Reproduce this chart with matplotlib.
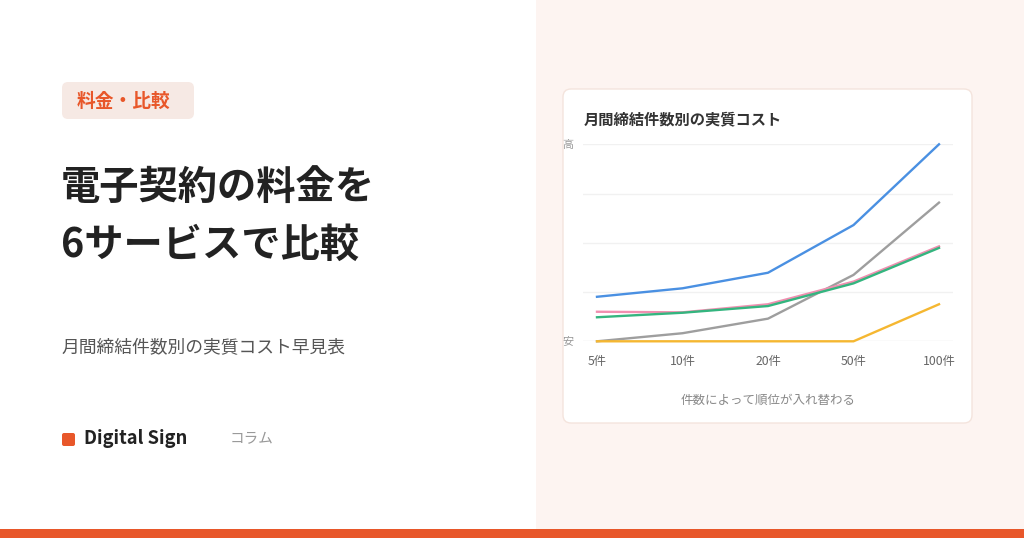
import matplotlib
matplotlib.use("Agg")
import matplotlib.pyplot as plt
from matplotlib.patches import FancyBboxPatch, Rectangle

plt.rcParams['font.family'] = ['Noto Sans CJK JP', 'DejaVu Sans']

# ---- data ----
categories = ["5件", "10件", "20件", "50件", "100件"]
series_blue = [22.6, 26.9, 34.8, 59.0, 100.0]
series_gray = [0.0, 4.1, 11.5, 33.7, 70.4]
series_pink = [15.0, 14.7, 18.8, 30.3, 48.2]
series_green = [12.2, 14.5, 17.9, 29.4, 47.4]
series_yellow = [0.0, 0.0, 0.0, 0.0, 18.8]
y_ticks = [0, 100]
y_tick_labels = ["安", "高"]
grid_levels = [0, 25, 50, 75, 100]

W, H = 1024, 538
fig = plt.figure(figsize=(W / 100, H / 100), dpi=100)
fig.patch.set_facecolor("white")

bg = fig.add_axes([0, 0, 1, 1], zorder=0)
bg.set_xlim(0, W)
bg.set_ylim(0, H)
bg.axis("off")

def Y(y):
    return H - y

ORANGE = "#e8572a"
# right panel
bg.add_patch(Rectangle((536, Y(529)), W - 536, 529, facecolor="#fdf4f1", edgecolor="none"))
# bottom bar
bg.add_patch(Rectangle((0, 0), W, H - 529, facecolor=ORANGE, edgecolor="none"))
# card
bg.add_patch(FancyBboxPatch((563 + 8, Y(423) + 8), 409 - 16, 334 - 16,
                            boxstyle="round,pad=8", facecolor="white",
                            edgecolor="#f4e4dd", linewidth=1.0))
# tag
bg.add_patch(FancyBboxPatch((62 + 6, Y(119) + 6), 132 - 12, 37 - 12,
                            boxstyle="round,pad=6", facecolor="#f6e9e4",
                            edgecolor="none"))
bg.text(76.5, Y(101.5), "料金・比較", color=ORANGE, fontsize=13.5, fontweight="bold",
        ha="left", va="center")

# title
bg.text(61, Y(187), "電子契約の料金を", color="#222222", fontsize=28.3,
        fontweight="bold", ha="left", va="center")
bg.text(61, Y(245.5), "6サービスで比較", color="#222222", fontsize=28.3,
        fontweight="bold", ha="left", va="center")
# subtitle
bg.text(62, Y(347), "月間締結件数別の実質コスト早見表", color="#555555", fontsize=12.8,
        ha="left", va="center")
# brand
bg.add_patch(FancyBboxPatch((62 + 2, Y(446) + 2), 13 - 4, 13 - 4,
                            boxstyle="round,pad=2", facecolor=ORANGE, edgecolor="none"))
bg.text(84.5, Y(439), "Digital Sign", color="#222222", fontsize=13.2,
        fontweight="bold", ha="left", va="center")
bg.text(230, Y(439.5), "コラム", color="#999999", fontsize=10.5,
        ha="left", va="center")

# chart title and footer
bg.text(584, Y(119.5), "月間締結件数別の実質コスト", color="#333333", fontsize=11,
        fontweight="bold", ha="left", va="center")
bg.text(768, Y(400), "件数によって順位が入れ替わる", color="#888888", fontsize=9,
        ha="center", va="center")

# ---- chart axes ----
ax_left, ax_right = 583, 953
ax_top, ax_bottom = 144.3, 341.3
ax = fig.add_axes([ax_left / W, (H - ax_bottom) / H,
                   (ax_right - ax_left) / W, (ax_bottom - ax_top) / H], zorder=1)
ax.set_facecolor("none")
x = list(range(len(categories)))
step = (939 - 597) / 4
ax.set_xlim(-(597 - ax_left) / step, 4 + (ax_right - 939) / step)
ax.set_ylim(0, 100)
for s in ax.spines.values():
    s.set_visible(False)

for g in grid_levels:
    ax.axhline(g, color="#e6e6e6" if g == 0 else "#f1f1f1", linewidth=1.0, zorder=0)

lw = 1.7
ax.plot(x, series_blue, color="#4a90e2", lw=lw, clip_on=False, zorder=3)
ax.plot(x, series_gray, color="#9e9e9e", lw=lw, clip_on=False, zorder=3)
ax.plot(x, series_pink, color="#f08fb0", lw=lw, clip_on=False, zorder=3)
ax.plot(x, series_green, color="#34b57f", lw=lw, clip_on=False, zorder=3)
ax.plot(x, series_yellow, color="#f5b731", lw=lw, clip_on=False, zorder=4)

ax.set_xticks(x)
ax.set_xticklabels(categories, fontsize=8.8, color="#666666")
ax.set_yticks(y_ticks)
ax.set_yticklabels(y_tick_labels, fontsize=8, color="#999999")
ax.tick_params(axis="both", length=0)
ax.tick_params(axis="x", pad=10)
ax.tick_params(axis="y", pad=7)

fig.savefig("out.png", dpi=100, facecolor=fig.get_facecolor())
